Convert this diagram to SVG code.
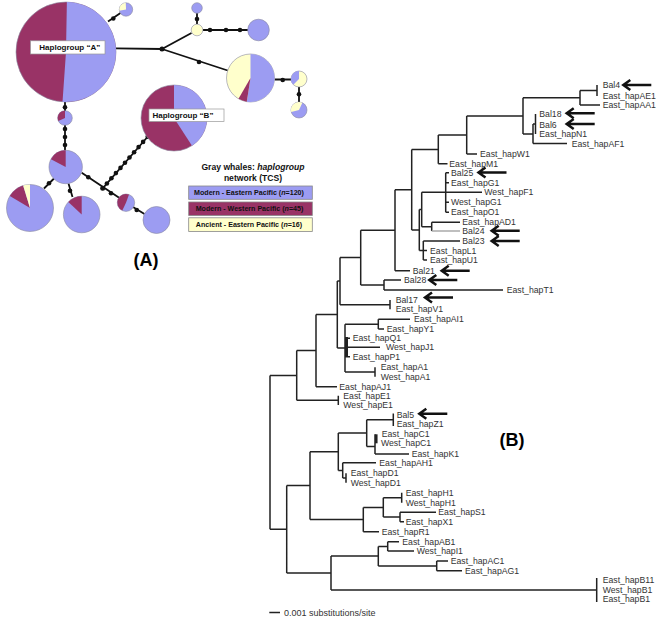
<svg xmlns="http://www.w3.org/2000/svg" xmlns:xlink="http://www.w3.org/1999/xlink" width="660" height="620" viewBox="0 0 660 620">
<style>
.net{stroke:#111;stroke-width:1.8;fill:none}
.dot{fill:#111}
.pb{fill:#9c9cf2}
.pm{fill:#993366}
.py{fill:#ffffcc}
.edge{stroke:#8a8aa0;stroke-width:0.6}
.lab{font-family:'Liberation Sans',Arial,sans-serif;font-weight:bold;font-size:8px;fill:#111}
.leg{font-family:'Liberation Sans',Arial,sans-serif;font-weight:bold;font-size:7.1px;fill:#111}
.ttl{font-family:'Liberation Sans',Arial,sans-serif;font-weight:bold;font-size:8.6px;fill:#111}
.big{font-family:'Liberation Sans',Arial,sans-serif;font-weight:bold;font-size:18px;fill:#000}
.br{stroke:#222;stroke-width:1.5;fill:none}
.tip{font-family:'Liberation Sans',Arial,sans-serif;font-size:8.7px;fill:#333}
.arr{stroke:#111;stroke-width:2.5;fill:none}
</style>
<defs>
<path id="arr" class="arr" d="M0,0 H28 M7,-5 L0,0 L7,5"/>
</defs>
<rect width="660" height="620" fill="#fff"/>

<!-- (A) network connectors -->
<g id="connectors">
<path class="net" d="M116,48.3 L162,49 M162,49 L191.5,33 M162,49 L227.7,70.5 M197,24 V13 M203,30 H248 M274.5,79.5 H291 M299,87 V102 M108,21.5 L120.5,13 M65,101.5 V111 M65,125 V150.5 M44,188.5 L54,178.5 M68.5,183.5 L72.5,197 M81.7,172.7 L119.5,198 M133,207 L144.5,214 M102.7,188.3 L150.5,133.5"/>
<g class="dot">
<circle cx="162" cy="49" r="2.5"/>
<circle cx="199" cy="62" r="2.3"/>
<circle cx="197" cy="19" r="2.3"/>
<circle cx="210" cy="30" r="2.3"/>
<circle cx="226" cy="30" r="2.3"/>
<circle cx="240" cy="30" r="2.3"/>
<circle cx="282.7" cy="80" r="2.3"/>
<circle cx="299" cy="94.3" r="2.3"/>
<circle cx="113.3" cy="18.5" r="2.3"/>
<circle cx="65" cy="107.3" r="2.3"/>
<circle cx="65" cy="129" r="2.3"/>
<circle cx="65" cy="137" r="2.3"/>
<circle cx="65" cy="145" r="2.3"/>
<circle cx="49" cy="183.3" r="2.3"/>
<circle cx="70" cy="190.7" r="2.3"/>
<circle cx="88.3" cy="177.3" r="2.3"/>
<circle cx="102.7" cy="188.3" r="2.5"/>
<circle cx="111" cy="193.3" r="2.3"/>
<circle cx="136.7" cy="210" r="2.3"/>
<circle cx="106.9" cy="183.5" r="2.3"/>
<circle cx="111.4" cy="178.3" r="2.3"/>
<circle cx="115.9" cy="173.1" r="2.3"/>
<circle cx="120.5" cy="167.9" r="2.3"/>
<circle cx="125" cy="162.7" r="2.3"/>
<circle cx="129.5" cy="157.5" r="2.3"/>
<circle cx="134.1" cy="152.3" r="2.3"/>
<circle cx="138.6" cy="147.1" r="2.3"/>
<circle cx="143.1" cy="141.9" r="2.3"/>
<circle cx="147.7" cy="136.7" r="2.3"/>
</g>
</g>

<!-- (A) network nodes -->
<g id="node-haplogroup-a">
<circle class="pm edge" cx="66" cy="52" r="50"/>
<path class="pb" d="M66,52 L66.87,2.01 A50,50 0 1 1 62.51,101.88 Z"/>
<rect x="30.5" y="40.8" width="74.5" height="13.2" fill="#fff" stroke="#999" stroke-width="0.7"/>
<text class="lab" x="39.3" y="50.3">Haplogroup “A”</text>
</g>
<g id="node-top-small">
<circle class="pb edge" cx="126" cy="9.5" r="6.7"/>
<path class="py" d="M126,9.5 L119.4,10.66 A6.7,6.7 0 0 1 125.77,2.8 Z"/>
</g>
<g id="node-top-blue">
<circle class="pb edge" cx="197" cy="8" r="5.3"/>
</g>
<g id="node-yellow">
<circle class="py edge" cx="197" cy="30" r="5.8"/>
</g>
<g id="node-right-blue">
<circle class="pb edge" cx="258.5" cy="30" r="10.8"/>
</g>
<g id="node-mixed-large">
<circle class="py edge" cx="250.5" cy="78" r="24"/>
<path class="pb" d="M250.5,78 L250.5,54 A24,24 0 1 1 246.75,101.7 Z"/>
<path class="pm" d="M250.5,78 L246.75,101.7 A24,24 0 0 1 238.5,98.78 Z"/>
</g>
<g id="node-small-1">
<circle class="py edge" cx="299" cy="79" r="8"/>
<path class="pb" d="M299,79 L293.34,84.66 A8,8 0 0 1 299,71 Z"/>
</g>
<g id="node-small-2">
<circle class="pb edge" cx="299" cy="110" r="8"/>
<path class="py" d="M299,110 L291.27,112.07 A8,8 0 0 1 302.38,102.75 Z"/>
</g>
<g id="node-below-a">
<circle class="pb edge" cx="65" cy="118" r="7.3"/>
<path class="pm" d="M65,118 L58.38,121.08 A7.3,7.3 0 0 1 65,110.7 Z"/>
</g>
<g id="node-mid">
<circle class="pb edge" cx="65.7" cy="167" r="16.7"/>
<path class="pm" d="M65.7,167 L50.96,159.16 A16.7,16.7 0 0 1 65.7,150.3 Z"/>
</g>
<g id="node-lower-left">
<circle class="pb edge" cx="30" cy="208" r="23.5"/>
<path class="pm" d="M30,208 L9.86,195.9 A23.5,23.5 0 0 1 23.13,185.53 Z"/>
<path class="py" d="M30,208 L23.13,185.53 A23.5,23.5 0 0 1 30,184.5 Z"/>
</g>
<g id="node-lower-mid">
<circle class="pb edge" cx="81.7" cy="214.5" r="18.3"/>
<path class="pm" d="M81.7,214.5 L68.32,202.02 A18.3,18.3 0 0 1 81.7,196.2 Z"/>
</g>
<g id="node-small-3">
<circle class="pb edge" cx="126" cy="202.7" r="8.7"/>
<path class="pm" d="M126,202.7 L122.32,210.58 A8.7,8.7 0 0 1 128.98,194.52 Z"/>
</g>
<g id="node-lower-blue">
<circle class="pb edge" cx="156.5" cy="220" r="13.5"/>
</g>
<g id="node-haplogroup-b">
<circle class="pm edge" cx="174" cy="118" r="33"/>
<path class="pb" d="M174,118 L174,85 A33,33 0 0 1 191.97,145.68 Z"/>
<rect x="149" y="109" width="75" height="12.5" fill="#fff" stroke="#999" stroke-width="0.7"/>
<text class="lab" x="152.5" y="118.3">Haplogroup “B”</text>
</g>

<g id="legend">
<text class="ttl" x="253" y="170" text-anchor="middle">Gray whales: <tspan font-style="italic">haplogroup</tspan></text>
<text class="ttl" x="253" y="181.3" text-anchor="middle">network (TCS)</text>
<rect class="pb" x="188.7" y="186" width="123.6" height="13.3" stroke="#888" stroke-width="0.8"/>
<rect class="pm" x="188.7" y="202" width="123.6" height="13.5" stroke="#888" stroke-width="0.8"/>
<rect class="py" x="188.7" y="217.8" width="123.6" height="13.6" stroke="#888" stroke-width="0.8"/>
<text class="leg" x="249" y="195.2" text-anchor="middle">Modern - Eastern Pacific (<tspan font-style="italic">n</tspan>=120)</text>
<text class="leg" x="249.5" y="211.3" text-anchor="middle">Modern - Western Pacific (<tspan font-style="italic">n</tspan>=45)</text>
<text class="leg" x="249" y="227.2" text-anchor="middle">Ancient - Eastern Pacific (<tspan font-style="italic">n</tspan>=16)</text>
</g>
<text class="big" x="146" y="265.5" text-anchor="middle">(A)</text>

<!-- (B) tree branches -->
<g id="tree-branches" class="br">
<path d="M580,90.5 V105 M580,90.5 H597 M597,85 V96 M580,105 H600
M523,97.8 V134 M523,97.8 H580 M533,124 H535.5 M535.5,114 V134 M533,124 V143.5 M523,134 H533 M533,143.5 H567
M466.7,116 V154 M466.7,116 H523 M466.7,154 H477
M438.3,135 V163.7 M438.3,135 H466.7 M438.3,163.7 H447.5
M445.7,172.7 V212.3 M445.7,172.7 H449 M445.7,182.7 H449 M445.7,202.3 H449 M445.7,212.3 H449 M421.7,192.3 H482
M431.7,222.3 V231 M431.7,222.3 H460
M421.7,192.3 V226.7 M421.7,226.7 H431.7
M423.3,241 V260 M423.3,241 H460 M423.3,250.5 H427 M423.3,260 H427
M419.3,209.5 V250.5 M419.3,209.5 H421.7 M419.3,250.5 H423.3
M411.7,149.4 V230 M411.7,149.4 H438.3 M411.7,230 H419.3
M395,189.7 V270.7 M395,189.7 H411.7 M395,270.7 H410
M384,280 V290 M384,280 H401 M384,290 H503
M360.7,230.2 V285 M360.7,230.2 H395 M360.7,285 H384
M390,300 V309.3 M340,257.6 V304.7 M340,257.6 H360.7 M340,304.7 H390
M378.3,319.3 V329 M378.3,319.3 H410 M378.3,329 H384
M375,367.3 V376.7
M345,324.2 V372 M345,324.2 H378.3 M345,372 H375 M345,338.3 H350 M345,347.3 H380 M345,356.7 H350
M337.3,281.1 V348 M337.3,281.1 H340 M337.3,348 H345
M316,314.5 V386.7 M316,314.5 H337.3 M316,386.7 H337
M338.3,395.7 V405 M296.7,350.6 V400.3 M296.7,350.6 H316 M296.7,400.3 H338.3
M270,375.5 V529.3 M270,375.5 H296.7 M270,529.3 H286.7
M393.3,413.5 V426 M375,434.3 V454 M375,454 H409
M366.7,419.7 V446.4 M366.7,419.7 H393.3 M366.7,446.4 H375
M342.7,462.7 V478 M342.7,462.7 H376 M346,473.3 V482.7 M342.7,478 H346
M338.3,433 V470.4 M338.3,433 H366.7 M338.3,470.4 H342.7
M401.7,492.7 V502.7 M400,512.3 V521.7 M400,512.3 H436 M400,521.7 H404
M383.3,497.7 V517 M383.3,497.7 H401.7 M383.3,517 H400
M363.3,507.4 V531.7 M363.3,507.4 H383.3 M363.3,531.7 H379
M310,451.7 V519.5 M310,451.7 H338.3 M310,519.5 H363.3
M387.7,541.7 V551 M387.7,541.7 H399 M387.7,551 H414
M436.7,561 V570.7 M436.7,561 H448 M436.7,570.7 H462
M378.3,546.4 V565.9 M378.3,546.4 H387.7 M378.3,565.9 H436.7
M596.7,578 V602 M331,556 V590 M331,556 H378.3 M331,590 H596.7
M286.7,485.6 V573 M286.7,485.6 H310 M286.7,573 H331
M269.3,612.5 H280"/>
<path d="M346.5,337 V357" stroke-width="3"/>
<path d="M376.3,434.3 V443.3" stroke-width="2.5"/>
<path d="M431.7,231 H460" stroke="#aaa"/>
</g>

<g id="tree-labels" class="tip">
<text x="602.7" y="88">Bal4</text>
<text x="602.7" y="98.7">East_hapAE1</text>
<text x="602.7" y="108">East_hapAA1</text>
<text x="539.3" y="117.3">Bal18</text>
<text x="539.3" y="127.5">Bal6</text>
<text x="539.3" y="137">East_hapN1</text>
<text x="571.7" y="146.5">East_hapAF1</text>
<text x="480" y="157">East_hapW1</text>
<text x="449.3" y="166.7">East_hapM1</text>
<text x="451" y="175.7">Bal25</text>
<text x="451" y="185.7">East_hapG1</text>
<text x="484.3" y="195.3">West_hapF1</text>
<text x="451" y="205.3">West_hapG1</text>
<text x="451" y="215.3">East_hapO1</text>
<text x="462.3" y="225.3">East_hapAD1</text>
<text x="462.3" y="234">Bal24</text>
<text x="462.3" y="244">Bal23</text>
<text x="430" y="253.5">East_hapL1</text>
<text x="430" y="263">East_hapU1</text>
<text x="412.7" y="273.7">Bal21</text>
<text x="404" y="283">Bal28</text>
<text x="506.7" y="293">East_hapT1</text>
<text x="395.7" y="303">Bal17</text>
<text x="395.7" y="312.3">East_hapV1</text>
<text x="414" y="322.3">East_hapAI1</text>
<text x="386.7" y="332">East_hapY1</text>
<text x="352.7" y="341.3">East_hapQ1</text>
<text x="386" y="350.3">West_hapJ1</text>
<text x="352.7" y="359.7">East_hapP1</text>
<text x="380.7" y="370.3">East_hapA1</text>
<text x="380.7" y="379.7">West_hapA1</text>
<text x="339.3" y="389.7">East_hapAJ1</text>
<text x="343.3" y="398.7">East_hapE1</text>
<text x="343.3" y="408">West_hapE1</text>
<text x="396.7" y="418">Bal5</text>
<text x="396.7" y="427.3">East_hapZ1</text>
<text x="381.7" y="437.3">East_hapC1</text>
<text x="381" y="446.3">West_hapC1</text>
<text x="411.7" y="457">East_hapK1</text>
<text x="379.3" y="465.7">East_hapAH1</text>
<text x="350.7" y="476.3">East_hapD1</text>
<text x="350.7" y="485.7">West_hapD1</text>
<text x="405.7" y="495.7">East_hapH1</text>
<text x="405.7" y="505.7">West_hapH1</text>
<text x="438.3" y="515.3">East_hapS1</text>
<text x="405.7" y="524.7">East_hapX1</text>
<text x="381.7" y="534.7">East_hapR1</text>
<text x="402.3" y="544.7">East_hapAB1</text>
<text x="416.7" y="554">West_hapI1</text>
<text x="450.7" y="564">East_hapAC1</text>
<text x="465" y="573.7">East_hapAG1</text>
<text x="602.7" y="583">East_hapB11</text>
<text x="602.7" y="593">West_hapB1</text>
<text x="602.7" y="602.3">East_hapB1</text>
<text x="284" y="615.5" font-size="9">0.001 substitutions/site</text>
</g>

<g id="tree-arrows">
<use xlink:href="#arr" href="#arr" x="623.3" y="85"/>
<use xlink:href="#arr" href="#arr" x="566.7" y="113.3"/>
<use xlink:href="#arr" href="#arr" x="566.7" y="124"/>
<use xlink:href="#arr" href="#arr" x="478.5" y="172.5"/>
<use xlink:href="#arr" href="#arr" x="491.7" y="230.7"/>
<use xlink:href="#arr" href="#arr" x="491.7" y="241"/>
<use xlink:href="#arr" href="#arr" x="441.7" y="270.7"/>
<use xlink:href="#arr" href="#arr" x="429.3" y="280"/>
<use xlink:href="#arr" href="#arr" x="425" y="297.5"/>
<use xlink:href="#arr" href="#arr" x="419.3" y="413.7"/>
</g>
<text class="big" x="512" y="446" text-anchor="middle">(B)</text>
</svg>
